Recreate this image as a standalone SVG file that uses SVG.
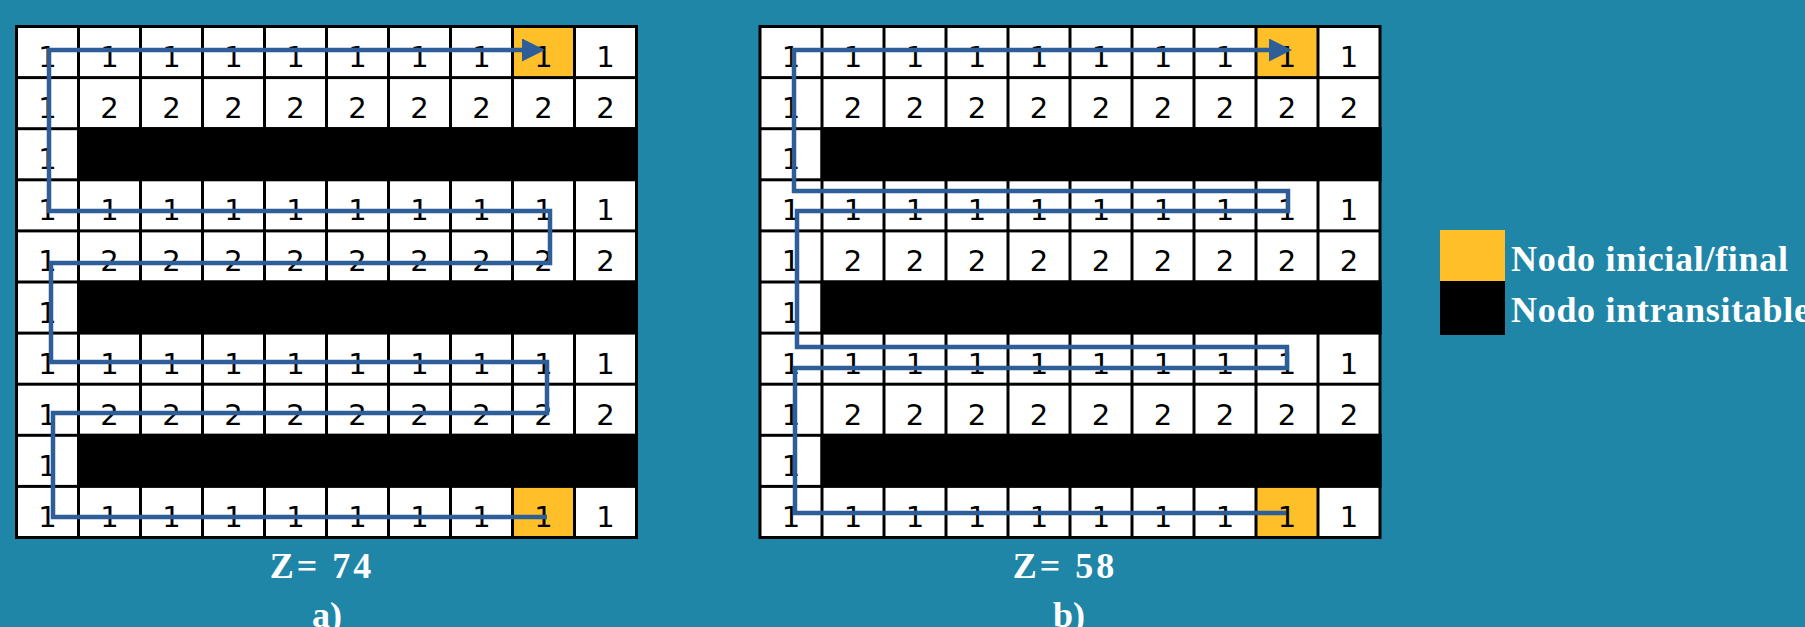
<svg xmlns="http://www.w3.org/2000/svg" width="1805" height="627" viewBox="0 0 1805 627">
<style>
.c{fill:#ffffff}
.y{fill:#FEBF28}
.n{font-family:"DejaVu Sans","Liberation Sans",sans-serif;font-size:29px;fill:#000;text-anchor:middle}
.lbl{font-family:"Liberation Serif","Times New Roman",serif;font-weight:bold;font-size:36px;fill:#ffffff}
.path{fill:none;stroke:#2E5E98;stroke-width:4.5;stroke-linejoin:miter}
</style>
<defs>
<marker id="arr" markerUnits="userSpaceOnUse" markerWidth="24" markerHeight="24" refX="13" refY="11.5" orient="auto">
<path d="M0,0 L23,11.5 L0,23 Z" fill="#2E5E98"/>
</marker>
</defs>
<rect width="1805" height="627" fill="#1F86A7"/>

<g id="gridA">
<rect x="15" y="25" width="623" height="514" fill="#000"/>
<g id="a-r0c0" transform="translate(18,28)"><rect class="c" width="59" height="48.1"/><text class="n" x="29.5" y="39">1</text></g>
<g id="a-r0c1" transform="translate(80,28)"><rect class="c" width="59" height="48.1"/><text class="n" x="29.5" y="39">1</text></g>
<g id="a-r0c2" transform="translate(142,28)"><rect class="c" width="59" height="48.1"/><text class="n" x="29.5" y="39">1</text></g>
<g id="a-r0c3" transform="translate(204,28)"><rect class="c" width="59" height="48.1"/><text class="n" x="29.5" y="39">1</text></g>
<g id="a-r0c4" transform="translate(266,28)"><rect class="c" width="59" height="48.1"/><text class="n" x="29.5" y="39">1</text></g>
<g id="a-r0c5" transform="translate(328,28)"><rect class="c" width="59" height="48.1"/><text class="n" x="29.5" y="39">1</text></g>
<g id="a-r0c6" transform="translate(390,28)"><rect class="c" width="59" height="48.1"/><text class="n" x="29.5" y="39">1</text></g>
<g id="a-r0c7" transform="translate(452,28)"><rect class="c" width="59" height="48.1"/><text class="n" x="29.5" y="39">1</text></g>
<g id="a-r0c8" transform="translate(514,28)"><rect class="y" width="59" height="48.1"/><text class="n" x="29.5" y="39">1</text></g>
<g id="a-r0c9" transform="translate(576,28)"><rect class="c" width="59" height="48.1"/><text class="n" x="29.5" y="39">1</text></g>

<g id="a-r1c0" transform="translate(18,79.1)"><rect class="c" width="59" height="48.1"/><text class="n" x="29.5" y="39">1</text></g>
<g id="a-r1c1" transform="translate(80,79.1)"><rect class="c" width="59" height="48.1"/><text class="n" x="29.5" y="39">2</text></g>
<g id="a-r1c2" transform="translate(142,79.1)"><rect class="c" width="59" height="48.1"/><text class="n" x="29.5" y="39">2</text></g>
<g id="a-r1c3" transform="translate(204,79.1)"><rect class="c" width="59" height="48.1"/><text class="n" x="29.5" y="39">2</text></g>
<g id="a-r1c4" transform="translate(266,79.1)"><rect class="c" width="59" height="48.1"/><text class="n" x="29.5" y="39">2</text></g>
<g id="a-r1c5" transform="translate(328,79.1)"><rect class="c" width="59" height="48.1"/><text class="n" x="29.5" y="39">2</text></g>
<g id="a-r1c6" transform="translate(390,79.1)"><rect class="c" width="59" height="48.1"/><text class="n" x="29.5" y="39">2</text></g>
<g id="a-r1c7" transform="translate(452,79.1)"><rect class="c" width="59" height="48.1"/><text class="n" x="29.5" y="39">2</text></g>
<g id="a-r1c8" transform="translate(514,79.1)"><rect class="c" width="59" height="48.1"/><text class="n" x="29.5" y="39">2</text></g>
<g id="a-r1c9" transform="translate(576,79.1)"><rect class="c" width="59" height="48.1"/><text class="n" x="29.5" y="39">2</text></g>

<g id="a-r2c0" transform="translate(18,130.2)"><rect class="c" width="59" height="48.1"/><text class="n" x="29.5" y="39">1</text></g>
<rect id="a-wall1" x="77" y="127.2" width="561" height="54.1" fill="#000"/>

<g id="a-r3c0" transform="translate(18,181.3)"><rect class="c" width="59" height="48.1"/><text class="n" x="29.5" y="39">1</text></g>
<g id="a-r3c1" transform="translate(80,181.3)"><rect class="c" width="59" height="48.1"/><text class="n" x="29.5" y="39">1</text></g>
<g id="a-r3c2" transform="translate(142,181.3)"><rect class="c" width="59" height="48.1"/><text class="n" x="29.5" y="39">1</text></g>
<g id="a-r3c3" transform="translate(204,181.3)"><rect class="c" width="59" height="48.1"/><text class="n" x="29.5" y="39">1</text></g>
<g id="a-r3c4" transform="translate(266,181.3)"><rect class="c" width="59" height="48.1"/><text class="n" x="29.5" y="39">1</text></g>
<g id="a-r3c5" transform="translate(328,181.3)"><rect class="c" width="59" height="48.1"/><text class="n" x="29.5" y="39">1</text></g>
<g id="a-r3c6" transform="translate(390,181.3)"><rect class="c" width="59" height="48.1"/><text class="n" x="29.5" y="39">1</text></g>
<g id="a-r3c7" transform="translate(452,181.3)"><rect class="c" width="59" height="48.1"/><text class="n" x="29.5" y="39">1</text></g>
<g id="a-r3c8" transform="translate(514,181.3)"><rect class="c" width="59" height="48.1"/><text class="n" x="29.5" y="39">1</text></g>
<g id="a-r3c9" transform="translate(576,181.3)"><rect class="c" width="59" height="48.1"/><text class="n" x="29.5" y="39">1</text></g>

<g id="a-r4c0" transform="translate(18,232.4)"><rect class="c" width="59" height="48.1"/><text class="n" x="29.5" y="39">1</text></g>
<g id="a-r4c1" transform="translate(80,232.4)"><rect class="c" width="59" height="48.1"/><text class="n" x="29.5" y="39">2</text></g>
<g id="a-r4c2" transform="translate(142,232.4)"><rect class="c" width="59" height="48.1"/><text class="n" x="29.5" y="39">2</text></g>
<g id="a-r4c3" transform="translate(204,232.4)"><rect class="c" width="59" height="48.1"/><text class="n" x="29.5" y="39">2</text></g>
<g id="a-r4c4" transform="translate(266,232.4)"><rect class="c" width="59" height="48.1"/><text class="n" x="29.5" y="39">2</text></g>
<g id="a-r4c5" transform="translate(328,232.4)"><rect class="c" width="59" height="48.1"/><text class="n" x="29.5" y="39">2</text></g>
<g id="a-r4c6" transform="translate(390,232.4)"><rect class="c" width="59" height="48.1"/><text class="n" x="29.5" y="39">2</text></g>
<g id="a-r4c7" transform="translate(452,232.4)"><rect class="c" width="59" height="48.1"/><text class="n" x="29.5" y="39">2</text></g>
<g id="a-r4c8" transform="translate(514,232.4)"><rect class="c" width="59" height="48.1"/><text class="n" x="29.5" y="39">2</text></g>
<g id="a-r4c9" transform="translate(576,232.4)"><rect class="c" width="59" height="48.1"/><text class="n" x="29.5" y="39">2</text></g>

<g id="a-r5c0" transform="translate(18,283.5)"><rect class="c" width="59" height="48.1"/><text class="n" x="29.5" y="39">1</text></g>
<rect id="a-wall2" x="77" y="280.5" width="561" height="54.1" fill="#000"/>

<g id="a-r6c0" transform="translate(18,334.6)"><rect class="c" width="59" height="48.1"/><text class="n" x="29.5" y="39">1</text></g>
<g id="a-r6c1" transform="translate(80,334.6)"><rect class="c" width="59" height="48.1"/><text class="n" x="29.5" y="39">1</text></g>
<g id="a-r6c2" transform="translate(142,334.6)"><rect class="c" width="59" height="48.1"/><text class="n" x="29.5" y="39">1</text></g>
<g id="a-r6c3" transform="translate(204,334.6)"><rect class="c" width="59" height="48.1"/><text class="n" x="29.5" y="39">1</text></g>
<g id="a-r6c4" transform="translate(266,334.6)"><rect class="c" width="59" height="48.1"/><text class="n" x="29.5" y="39">1</text></g>
<g id="a-r6c5" transform="translate(328,334.6)"><rect class="c" width="59" height="48.1"/><text class="n" x="29.5" y="39">1</text></g>
<g id="a-r6c6" transform="translate(390,334.6)"><rect class="c" width="59" height="48.1"/><text class="n" x="29.5" y="39">1</text></g>
<g id="a-r6c7" transform="translate(452,334.6)"><rect class="c" width="59" height="48.1"/><text class="n" x="29.5" y="39">1</text></g>
<g id="a-r6c8" transform="translate(514,334.6)"><rect class="c" width="59" height="48.1"/><text class="n" x="29.5" y="39">1</text></g>
<g id="a-r6c9" transform="translate(576,334.6)"><rect class="c" width="59" height="48.1"/><text class="n" x="29.5" y="39">1</text></g>

<g id="a-r7c0" transform="translate(18,385.7)"><rect class="c" width="59" height="48.1"/><text class="n" x="29.5" y="39">1</text></g>
<g id="a-r7c1" transform="translate(80,385.7)"><rect class="c" width="59" height="48.1"/><text class="n" x="29.5" y="39">2</text></g>
<g id="a-r7c2" transform="translate(142,385.7)"><rect class="c" width="59" height="48.1"/><text class="n" x="29.5" y="39">2</text></g>
<g id="a-r7c3" transform="translate(204,385.7)"><rect class="c" width="59" height="48.1"/><text class="n" x="29.5" y="39">2</text></g>
<g id="a-r7c4" transform="translate(266,385.7)"><rect class="c" width="59" height="48.1"/><text class="n" x="29.5" y="39">2</text></g>
<g id="a-r7c5" transform="translate(328,385.7)"><rect class="c" width="59" height="48.1"/><text class="n" x="29.5" y="39">2</text></g>
<g id="a-r7c6" transform="translate(390,385.7)"><rect class="c" width="59" height="48.1"/><text class="n" x="29.5" y="39">2</text></g>
<g id="a-r7c7" transform="translate(452,385.7)"><rect class="c" width="59" height="48.1"/><text class="n" x="29.5" y="39">2</text></g>
<g id="a-r7c8" transform="translate(514,385.7)"><rect class="c" width="59" height="48.1"/><text class="n" x="29.5" y="39">2</text></g>
<g id="a-r7c9" transform="translate(576,385.7)"><rect class="c" width="59" height="48.1"/><text class="n" x="29.5" y="39">2</text></g>

<g id="a-r8c0" transform="translate(18,436.8)"><rect class="c" width="59" height="48.1"/><text class="n" x="29.5" y="39">1</text></g>
<rect id="a-wall3" x="77" y="433.8" width="561" height="54.1" fill="#000"/>

<g id="a-r9c0" transform="translate(18,487.9)"><rect class="c" width="59" height="48.1"/><text class="n" x="29.5" y="39">1</text></g>
<g id="a-r9c1" transform="translate(80,487.9)"><rect class="c" width="59" height="48.1"/><text class="n" x="29.5" y="39">1</text></g>
<g id="a-r9c2" transform="translate(142,487.9)"><rect class="c" width="59" height="48.1"/><text class="n" x="29.5" y="39">1</text></g>
<g id="a-r9c3" transform="translate(204,487.9)"><rect class="c" width="59" height="48.1"/><text class="n" x="29.5" y="39">1</text></g>
<g id="a-r9c4" transform="translate(266,487.9)"><rect class="c" width="59" height="48.1"/><text class="n" x="29.5" y="39">1</text></g>
<g id="a-r9c5" transform="translate(328,487.9)"><rect class="c" width="59" height="48.1"/><text class="n" x="29.5" y="39">1</text></g>
<g id="a-r9c6" transform="translate(390,487.9)"><rect class="c" width="59" height="48.1"/><text class="n" x="29.5" y="39">1</text></g>
<g id="a-r9c7" transform="translate(452,487.9)"><rect class="c" width="59" height="48.1"/><text class="n" x="29.5" y="39">1</text></g>
<g id="a-r9c8" transform="translate(514,487.9)"><rect class="y" width="59" height="48.1"/><text class="n" x="29.5" y="39">1</text></g>
<g id="a-r9c9" transform="translate(576,487.9)"><rect class="c" width="59" height="48.1"/><text class="n" x="29.5" y="39">1</text></g>
</g>

<g id="gridB">
<rect x="758.5" y="25" width="623" height="514" fill="#000"/>
<g id="b-r0c0" transform="translate(761.5,28)"><rect class="c" width="59" height="48.1"/><text class="n" x="29.5" y="39">1</text></g>
<g id="b-r0c1" transform="translate(823.5,28)"><rect class="c" width="59" height="48.1"/><text class="n" x="29.5" y="39">1</text></g>
<g id="b-r0c2" transform="translate(885.5,28)"><rect class="c" width="59" height="48.1"/><text class="n" x="29.5" y="39">1</text></g>
<g id="b-r0c3" transform="translate(947.5,28)"><rect class="c" width="59" height="48.1"/><text class="n" x="29.5" y="39">1</text></g>
<g id="b-r0c4" transform="translate(1009.5,28)"><rect class="c" width="59" height="48.1"/><text class="n" x="29.5" y="39">1</text></g>
<g id="b-r0c5" transform="translate(1071.5,28)"><rect class="c" width="59" height="48.1"/><text class="n" x="29.5" y="39">1</text></g>
<g id="b-r0c6" transform="translate(1133.5,28)"><rect class="c" width="59" height="48.1"/><text class="n" x="29.5" y="39">1</text></g>
<g id="b-r0c7" transform="translate(1195.5,28)"><rect class="c" width="59" height="48.1"/><text class="n" x="29.5" y="39">1</text></g>
<g id="b-r0c8" transform="translate(1257.5,28)"><rect class="y" width="59" height="48.1"/><text class="n" x="29.5" y="39">1</text></g>
<g id="b-r0c9" transform="translate(1319.5,28)"><rect class="c" width="59" height="48.1"/><text class="n" x="29.5" y="39">1</text></g>

<g id="b-r1c0" transform="translate(761.5,79.1)"><rect class="c" width="59" height="48.1"/><text class="n" x="29.5" y="39">1</text></g>
<g id="b-r1c1" transform="translate(823.5,79.1)"><rect class="c" width="59" height="48.1"/><text class="n" x="29.5" y="39">2</text></g>
<g id="b-r1c2" transform="translate(885.5,79.1)"><rect class="c" width="59" height="48.1"/><text class="n" x="29.5" y="39">2</text></g>
<g id="b-r1c3" transform="translate(947.5,79.1)"><rect class="c" width="59" height="48.1"/><text class="n" x="29.5" y="39">2</text></g>
<g id="b-r1c4" transform="translate(1009.5,79.1)"><rect class="c" width="59" height="48.1"/><text class="n" x="29.5" y="39">2</text></g>
<g id="b-r1c5" transform="translate(1071.5,79.1)"><rect class="c" width="59" height="48.1"/><text class="n" x="29.5" y="39">2</text></g>
<g id="b-r1c6" transform="translate(1133.5,79.1)"><rect class="c" width="59" height="48.1"/><text class="n" x="29.5" y="39">2</text></g>
<g id="b-r1c7" transform="translate(1195.5,79.1)"><rect class="c" width="59" height="48.1"/><text class="n" x="29.5" y="39">2</text></g>
<g id="b-r1c8" transform="translate(1257.5,79.1)"><rect class="c" width="59" height="48.1"/><text class="n" x="29.5" y="39">2</text></g>
<g id="b-r1c9" transform="translate(1319.5,79.1)"><rect class="c" width="59" height="48.1"/><text class="n" x="29.5" y="39">2</text></g>

<g id="b-r2c0" transform="translate(761.5,130.2)"><rect class="c" width="59" height="48.1"/><text class="n" x="29.5" y="39">1</text></g>
<rect id="b-wall1" x="820.5" y="127.2" width="561" height="54.1" fill="#000"/>

<g id="b-r3c0" transform="translate(761.5,181.3)"><rect class="c" width="59" height="48.1"/><text class="n" x="29.5" y="39">1</text></g>
<g id="b-r3c1" transform="translate(823.5,181.3)"><rect class="c" width="59" height="48.1"/><text class="n" x="29.5" y="39">1</text></g>
<g id="b-r3c2" transform="translate(885.5,181.3)"><rect class="c" width="59" height="48.1"/><text class="n" x="29.5" y="39">1</text></g>
<g id="b-r3c3" transform="translate(947.5,181.3)"><rect class="c" width="59" height="48.1"/><text class="n" x="29.5" y="39">1</text></g>
<g id="b-r3c4" transform="translate(1009.5,181.3)"><rect class="c" width="59" height="48.1"/><text class="n" x="29.5" y="39">1</text></g>
<g id="b-r3c5" transform="translate(1071.5,181.3)"><rect class="c" width="59" height="48.1"/><text class="n" x="29.5" y="39">1</text></g>
<g id="b-r3c6" transform="translate(1133.5,181.3)"><rect class="c" width="59" height="48.1"/><text class="n" x="29.5" y="39">1</text></g>
<g id="b-r3c7" transform="translate(1195.5,181.3)"><rect class="c" width="59" height="48.1"/><text class="n" x="29.5" y="39">1</text></g>
<g id="b-r3c8" transform="translate(1257.5,181.3)"><rect class="c" width="59" height="48.1"/><text class="n" x="29.5" y="39">1</text></g>
<g id="b-r3c9" transform="translate(1319.5,181.3)"><rect class="c" width="59" height="48.1"/><text class="n" x="29.5" y="39">1</text></g>

<g id="b-r4c0" transform="translate(761.5,232.4)"><rect class="c" width="59" height="48.1"/><text class="n" x="29.5" y="39">1</text></g>
<g id="b-r4c1" transform="translate(823.5,232.4)"><rect class="c" width="59" height="48.1"/><text class="n" x="29.5" y="39">2</text></g>
<g id="b-r4c2" transform="translate(885.5,232.4)"><rect class="c" width="59" height="48.1"/><text class="n" x="29.5" y="39">2</text></g>
<g id="b-r4c3" transform="translate(947.5,232.4)"><rect class="c" width="59" height="48.1"/><text class="n" x="29.5" y="39">2</text></g>
<g id="b-r4c4" transform="translate(1009.5,232.4)"><rect class="c" width="59" height="48.1"/><text class="n" x="29.5" y="39">2</text></g>
<g id="b-r4c5" transform="translate(1071.5,232.4)"><rect class="c" width="59" height="48.1"/><text class="n" x="29.5" y="39">2</text></g>
<g id="b-r4c6" transform="translate(1133.5,232.4)"><rect class="c" width="59" height="48.1"/><text class="n" x="29.5" y="39">2</text></g>
<g id="b-r4c7" transform="translate(1195.5,232.4)"><rect class="c" width="59" height="48.1"/><text class="n" x="29.5" y="39">2</text></g>
<g id="b-r4c8" transform="translate(1257.5,232.4)"><rect class="c" width="59" height="48.1"/><text class="n" x="29.5" y="39">2</text></g>
<g id="b-r4c9" transform="translate(1319.5,232.4)"><rect class="c" width="59" height="48.1"/><text class="n" x="29.5" y="39">2</text></g>

<g id="b-r5c0" transform="translate(761.5,283.5)"><rect class="c" width="59" height="48.1"/><text class="n" x="29.5" y="39">1</text></g>
<rect id="b-wall2" x="820.5" y="280.5" width="561" height="54.1" fill="#000"/>

<g id="b-r6c0" transform="translate(761.5,334.6)"><rect class="c" width="59" height="48.1"/><text class="n" x="29.5" y="39">1</text></g>
<g id="b-r6c1" transform="translate(823.5,334.6)"><rect class="c" width="59" height="48.1"/><text class="n" x="29.5" y="39">1</text></g>
<g id="b-r6c2" transform="translate(885.5,334.6)"><rect class="c" width="59" height="48.1"/><text class="n" x="29.5" y="39">1</text></g>
<g id="b-r6c3" transform="translate(947.5,334.6)"><rect class="c" width="59" height="48.1"/><text class="n" x="29.5" y="39">1</text></g>
<g id="b-r6c4" transform="translate(1009.5,334.6)"><rect class="c" width="59" height="48.1"/><text class="n" x="29.5" y="39">1</text></g>
<g id="b-r6c5" transform="translate(1071.5,334.6)"><rect class="c" width="59" height="48.1"/><text class="n" x="29.5" y="39">1</text></g>
<g id="b-r6c6" transform="translate(1133.5,334.6)"><rect class="c" width="59" height="48.1"/><text class="n" x="29.5" y="39">1</text></g>
<g id="b-r6c7" transform="translate(1195.5,334.6)"><rect class="c" width="59" height="48.1"/><text class="n" x="29.5" y="39">1</text></g>
<g id="b-r6c8" transform="translate(1257.5,334.6)"><rect class="c" width="59" height="48.1"/><text class="n" x="29.5" y="39">1</text></g>
<g id="b-r6c9" transform="translate(1319.5,334.6)"><rect class="c" width="59" height="48.1"/><text class="n" x="29.5" y="39">1</text></g>

<g id="b-r7c0" transform="translate(761.5,385.7)"><rect class="c" width="59" height="48.1"/><text class="n" x="29.5" y="39">1</text></g>
<g id="b-r7c1" transform="translate(823.5,385.7)"><rect class="c" width="59" height="48.1"/><text class="n" x="29.5" y="39">2</text></g>
<g id="b-r7c2" transform="translate(885.5,385.7)"><rect class="c" width="59" height="48.1"/><text class="n" x="29.5" y="39">2</text></g>
<g id="b-r7c3" transform="translate(947.5,385.7)"><rect class="c" width="59" height="48.1"/><text class="n" x="29.5" y="39">2</text></g>
<g id="b-r7c4" transform="translate(1009.5,385.7)"><rect class="c" width="59" height="48.1"/><text class="n" x="29.5" y="39">2</text></g>
<g id="b-r7c5" transform="translate(1071.5,385.7)"><rect class="c" width="59" height="48.1"/><text class="n" x="29.5" y="39">2</text></g>
<g id="b-r7c6" transform="translate(1133.5,385.7)"><rect class="c" width="59" height="48.1"/><text class="n" x="29.5" y="39">2</text></g>
<g id="b-r7c7" transform="translate(1195.5,385.7)"><rect class="c" width="59" height="48.1"/><text class="n" x="29.5" y="39">2</text></g>
<g id="b-r7c8" transform="translate(1257.5,385.7)"><rect class="c" width="59" height="48.1"/><text class="n" x="29.5" y="39">2</text></g>
<g id="b-r7c9" transform="translate(1319.5,385.7)"><rect class="c" width="59" height="48.1"/><text class="n" x="29.5" y="39">2</text></g>

<g id="b-r8c0" transform="translate(761.5,436.8)"><rect class="c" width="59" height="48.1"/><text class="n" x="29.5" y="39">1</text></g>
<rect id="b-wall3" x="820.5" y="433.8" width="561" height="54.1" fill="#000"/>

<g id="b-r9c0" transform="translate(761.5,487.9)"><rect class="c" width="59" height="48.1"/><text class="n" x="29.5" y="39">1</text></g>
<g id="b-r9c1" transform="translate(823.5,487.9)"><rect class="c" width="59" height="48.1"/><text class="n" x="29.5" y="39">1</text></g>
<g id="b-r9c2" transform="translate(885.5,487.9)"><rect class="c" width="59" height="48.1"/><text class="n" x="29.5" y="39">1</text></g>
<g id="b-r9c3" transform="translate(947.5,487.9)"><rect class="c" width="59" height="48.1"/><text class="n" x="29.5" y="39">1</text></g>
<g id="b-r9c4" transform="translate(1009.5,487.9)"><rect class="c" width="59" height="48.1"/><text class="n" x="29.5" y="39">1</text></g>
<g id="b-r9c5" transform="translate(1071.5,487.9)"><rect class="c" width="59" height="48.1"/><text class="n" x="29.5" y="39">1</text></g>
<g id="b-r9c6" transform="translate(1133.5,487.9)"><rect class="c" width="59" height="48.1"/><text class="n" x="29.5" y="39">1</text></g>
<g id="b-r9c7" transform="translate(1195.5,487.9)"><rect class="c" width="59" height="48.1"/><text class="n" x="29.5" y="39">1</text></g>
<g id="b-r9c8" transform="translate(1257.5,487.9)"><rect class="y" width="59" height="48.1"/><text class="n" x="29.5" y="39">1</text></g>
<g id="b-r9c9" transform="translate(1319.5,487.9)"><rect class="c" width="59" height="48.1"/><text class="n" x="29.5" y="39">1</text></g>
</g>

<g id="connectors">
<path id="routeA" class="path" marker-end="url(#arr)" d="M547,517 L53,517 L53,413 L547,413 L547,362 L51,362 L51,263 L550,263 L550,211 L49,211 L49,50 L535,50"/>
<path id="routeB" class="path" marker-end="url(#arr)" d="M1286,513 L795,513 L795,368 L1287,368 L1287,347 L797,347 L797,211 L1288,211 L1288,191 L794,191 L794,50 L1282,50"/>
</g>

<g id="captions">
<text class="lbl" x="322" y="578" text-anchor="middle" letter-spacing="3">Z= 74</text>
<text class="lbl" x="327" y="627" text-anchor="middle">a)</text>
<text class="lbl" x="1065" y="578" text-anchor="middle" letter-spacing="3">Z= 58</text>
<text class="lbl" x="1069" y="627" text-anchor="middle">b)</text>
</g>

<g id="legend">
<g id="legend-start"><rect x="1440" y="230" width="65" height="51" fill="#FEBF28"/><text class="lbl" x="1511" y="271" letter-spacing="0.7">Nodo inicial/final</text></g>
<g id="legend-wall"><rect x="1440" y="281" width="65" height="54" fill="#000"/><text class="lbl" x="1511" y="322" letter-spacing="0.7">Nodo intransitable</text></g>
</g>
</svg>
